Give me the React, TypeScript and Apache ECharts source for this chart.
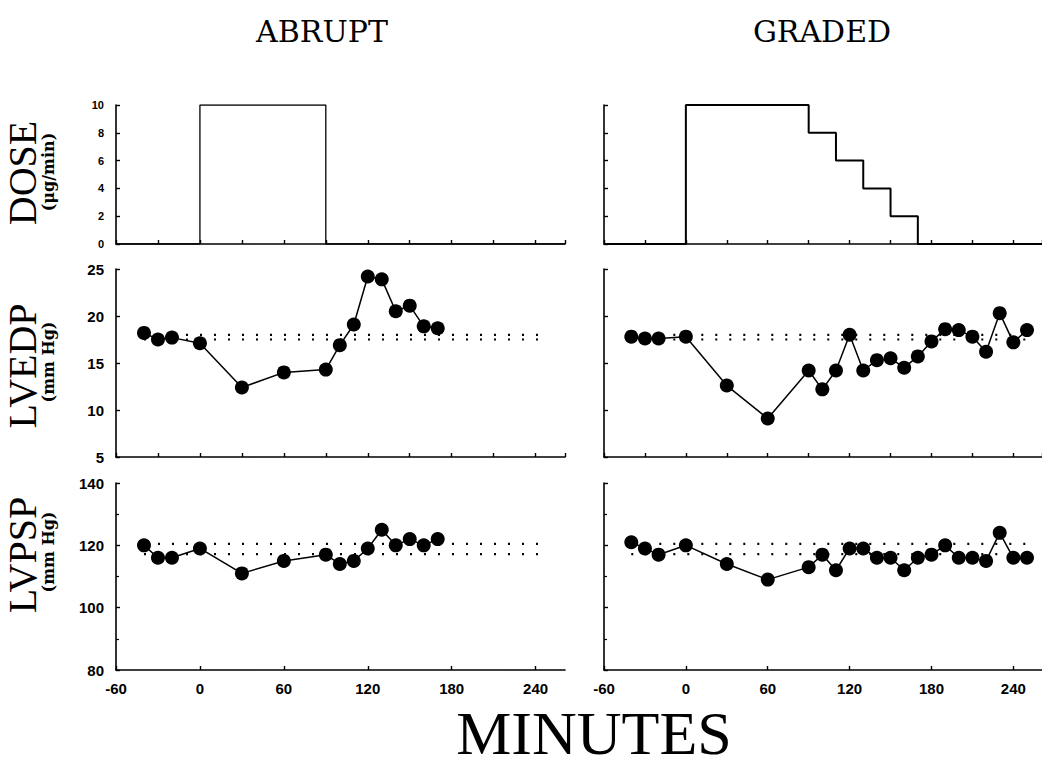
import React, { useEffect, useRef } from "react";
import * as echarts from "echarts";

// ---- data ----
const abruptTimes = [-40, -30, -20, 0, 30, 60, 90, 100, 110, 120, 130, 140, 150, 160, 170];
const abruptLVEDP = [18.2, 17.5, 17.7, 17.1, 12.4, 14.0, 14.3, 16.9, 19.1, 24.2, 23.9, 20.5, 21.1, 18.9, 18.7];
const abruptLVPSP = [120, 116, 116, 119, 111, 115, 117, 114, 115, 119, 125, 120, 122, 120, 122];

const gradedTimes = [-40, -30, -20, 0, 30, 60, 90, 100, 110, 120, 130, 140, 150, 160, 170, 180, 190, 200, 210, 220, 230, 240, 250];
const gradedLVEDP = [17.8, 17.6, 17.6, 17.8, 12.6, 9.1, 14.2, 12.2, 14.2, 18.0, 14.2, 15.3, 15.5, 14.5, 15.7, 17.3, 18.6, 18.5, 17.8, 16.2, 20.3, 17.2, 18.5];
const gradedLVPSP = [121, 119, 117, 120, 114, 109, 113, 117, 112, 119, 119, 116, 116, 112, 116, 117, 120, 116, 116, 115, 124, 116, 116];

const abruptDoseTimes = [-60, 0, 90, 261];
const abruptDose = [0, 10, 0, 0];
const gradedDoseTimes = [-60, 0, 90, 110, 130, 150, 170, 261];
const gradedDose = [0, 10, 8, 6, 4, 2, 0, 0];

const bandTimes = [-40, 250];
const lvedpBand = [17.5, 18.0];
const lvpspBand = [117.2, 120.5];

const xTickLabels = ["-60", "0", "60", "120", "180", "240"];
const panelTitles = ["ABRUPT", "GRADED"];

const zip = (xs: number[], ys: number[]) => xs.map((x, i) => [x, ys[i]]);

export default function App() {
  const ref = useRef<HTMLDivElement>(null);

  useEffect(() => {
    document.body.style.margin = "0";
    if (!ref.current) return;
    const chart = echarts.init(ref.current, undefined, { renderer: "svg" });

    const colLeft = [116, 604];
    const gridW = 449;
    const rows = [
      { top: 105, height: 139 },
      { top: 269, height: 188 },
      { top: 483, height: 187 },
    ];
    const grids: any[] = [];
    const xAxes: any[] = [];
    const yAxes: any[] = [];
    const axisLine = { show: true, onZero: false, lineStyle: { color: "#000", width: 1.6 } };
    const tick = { show: true, inside: true, length: 4, lineStyle: { color: "#000", width: 1.4 } };
    const yCfg = [
      { min: 0, max: 10, interval: 2, size: 11 },
      { min: 5, max: 25, interval: 5, size: 15 },
      { min: 80, max: 140, interval: 20, size: 15 },
    ];
    for (let c = 0; c < 2; c++) {
      for (let r = 0; r < 3; r++) {
        const idx = grids.length;
        grids.push({ left: colLeft[c], top: rows[r].top, width: gridW, height: rows[r].height });
        xAxes.push({
          type: "value",
          gridIndex: idx,
          min: -60,
          max: 261,
          interval: r === 2 ? 60 : 30,
          axisLine,
          axisTick: tick,
          splitLine: { show: false },
          axisLabel: {
            show: r === 2,
            color: "#000",
            fontFamily: "Liberation Sans",
            fontWeight: "bold",
            fontSize: 15,
            margin: 11,
            showMaxLabel: false,
            formatter: (v: number) => {
              const s = String(v);
              return xTickLabels.includes(s) ? s : "";
            },
          },
        });
        yAxes.push({
          type: "value",
          gridIndex: idx,
          min: yCfg[r].min,
          max: yCfg[r].max,
          interval: yCfg[r].interval,
          axisLine,
          axisTick: tick,
          minorTick: r === 2 ? { show: true, splitNumber: 2, length: 3, lineStyle: { color: "#000", width: 1.2 } } : { show: false },
          splitLine: { show: false },
          minorSplitLine: { show: false },
          axisLabel: {
            show: c === 0,
            color: "#000",
            fontFamily: "Liberation Sans",
            fontWeight: "bold",
            fontSize: yCfg[r].size,
            margin: 12,
          },
        });
      }
    }

    const dotted = (idx: number, v: number) => ({
      type: "line",
      xAxisIndex: idx,
      yAxisIndex: idx,
      data: zip(bandTimes, [v, v]),
      symbol: "none",
      silent: true,
      z: 1,
      lineStyle: { color: "#000", width: 2.2, type: [2, 12], cap: "butt" },
    });
    const points = (idx: number, xs: number[], ys: number[]) => ({
      type: "line",
      xAxisIndex: idx,
      yAxisIndex: idx,
      data: zip(xs, ys),
      symbol: "circle",
      symbolSize: 14,
      z: 3,
      clip: false,
      itemStyle: { color: "#000" },
      lineStyle: { color: "#000", width: 1.5 },
    });
    const dose = (idx: number, xs: number[], ys: number[], w: number) => ({
      type: "line",
      xAxisIndex: idx,
      yAxisIndex: idx,
      data: zip(xs, ys),
      step: "end",
      symbol: "none",
      z: 2,
      lineStyle: { color: "#000", width: w },
    });

    const series: any[] = [
      dose(0, abruptDoseTimes, abruptDose, 1.3),
      dotted(1, lvedpBand[0]),
      dotted(1, lvedpBand[1]),
      points(1, abruptTimes, abruptLVEDP),
      dotted(2, lvpspBand[0]),
      dotted(2, lvpspBand[1]),
      points(2, abruptTimes, abruptLVPSP),
      dose(3, gradedDoseTimes, gradedDose, 2),
      dotted(4, lvedpBand[0]),
      dotted(4, lvedpBand[1]),
      points(4, gradedTimes, gradedLVEDP),
      dotted(5, lvpspBand[0]),
      dotted(5, lvpspBand[1]),
      points(5, gradedTimes, gradedLVPSP),
    ];

    const vText = (x: number, y: number, text: string, size: number, weight: string, family: string) => ({
      type: "text",
      x,
      y,
      rotation: Math.PI / 2,
      style: {
        text,
        fill: "#000",
        fontFamily: family,
        fontSize: size,
        fontWeight: weight,
        textAlign: "center",
        textVerticalAlign: "middle",
      },
    });

    const graphic: any[] = [
      {
        type: "text",
        x: 322,
        y: 31,
        style: { text: panelTitles[0], fill: "#000", fontFamily: "DejaVu Serif", fontSize: 30, textAlign: "center", textVerticalAlign: "middle" },
      },
      {
        type: "text",
        x: 822,
        y: 31,
        style: { text: panelTitles[1], fill: "#000", fontFamily: "DejaVu Serif", fontSize: 30, textAlign: "center", textVerticalAlign: "middle" },
      },
      {
        type: "text",
        x: 594,
        y: 733,
        style: { text: "MINUTES", fill: "#000", fontFamily: "Liberation Serif", fontSize: 62, textAlign: "center", textVerticalAlign: "middle" },
      },
      vText(22, 173, "DOSE", 40, "normal", "Liberation Serif"),
      vText(48, 172, "(μg/min)", 16, "bold", "DejaVu Serif"),
      vText(22, 366, "LVEDP", 40, "normal", "Liberation Serif"),
      vText(48, 362, "(mm Hg)", 16, "bold", "DejaVu Serif"),
      vText(22, 555, "LVPSP", 40, "normal", "Liberation Serif"),
      vText(48, 552, "(mm Hg)", 16, "bold", "DejaVu Serif"),
    ];

    chart.setOption({
      animation: false,
      backgroundColor: "#fff",
      grid: grids,
      xAxis: xAxes,
      yAxis: yAxes,
      series,
      graphic,
    });
    return () => chart.dispose();
  }, []);

  return <div ref={ref} style={{ width: 1042, height: 766 }} />;
}
